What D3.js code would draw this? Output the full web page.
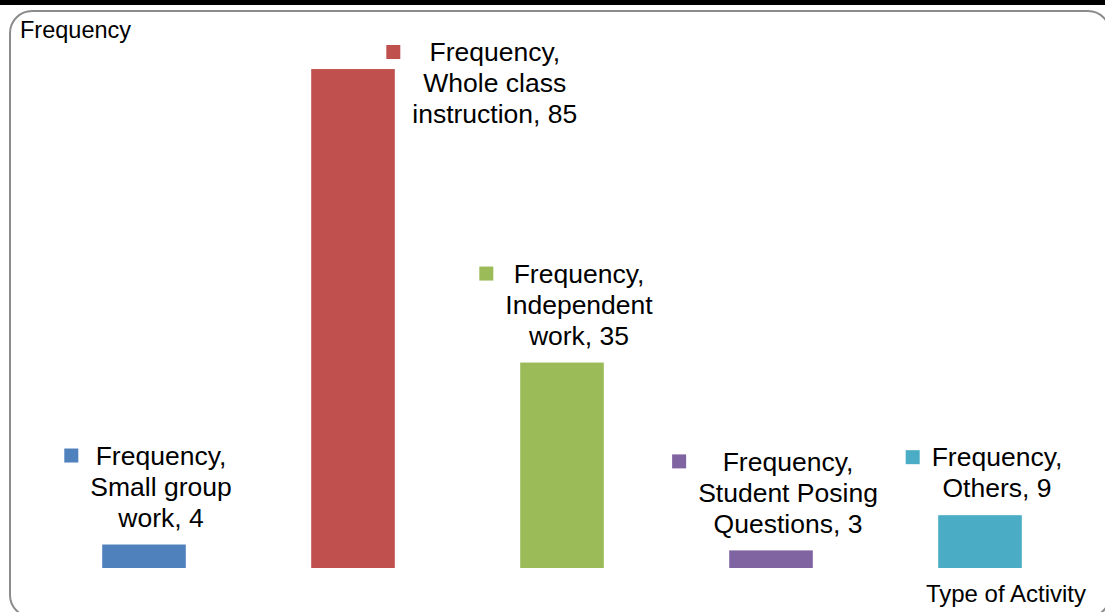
<!DOCTYPE html>
<html>
<head>
<meta charset="utf-8">
<script src="https://cdn.jsdelivr.net/npm/d3@7"></script>
<style>
  body { margin: 0; background: #fff; }
  svg { display: block; font-family: "Liberation Sans", Arial, sans-serif; }
</style>
</head>
<body>
<div id="chart-area"></div>
<script>
// data
var categories = ["Small group work", "Whole class instruction", "Independent work", "Student Posing Questions", "Others"];
var values = [4, 85, 35, 3, 9];
var colors = ["#4F81BD", "#C0504D", "#9BBB59", "#8064A2", "#4BACC6"];
// wrapped label lines (as Excel wrapped them)
var labelLines = [
    ["Frequency,", "Small group", "work, 4"],
    ["Frequency,", "Whole class", "instruction, 85"],
    ["Frequency,", "Independent", "work, 35"],
    ["Frequency,", "Student Posing", "Questions, 3"],
    ["Frequency,", "Others, 9"]
];

var w = 1105, h = 612;

var svg = d3.select("#chart-area")
    .append("svg")
    .attr("width", w)
    .attr("height", h);

// black strip at top
svg.append("rect")
    .attr("x", 0).attr("y", 0)
    .attr("width", w).attr("height", 5)
    .attr("fill", "#000");

// chart border
svg.append("rect")
    .attr("x", 10).attr("y", 11)
    .attr("width", 1100).attr("height", 606)
    .attr("rx", 22).attr("ry", 22)
    .attr("fill", "none")
    .attr("stroke", "#8c8c8c")
    .attr("stroke-width", 2);

var xScale = d3.scaleBand()
    .domain(categories)
    .range([39.5, 1084.5])
    .paddingInner(0.6)
    .paddingOuter(0.3);

var yScale = d3.scaleLinear()
    .domain([0, 90])
    .range([568, 568 - 90 * 5.87]);

svg.selectAll(".bar")
    .data(categories)
    .enter()
    .append("rect")
    .attr("class", "bar")
    .attr("x", function (d) { return xScale(d); })
    .attr("y", function (d, i) { return yScale(values[i]); })
    .attr("width", xScale.bandwidth())
    .attr("height", function (d, i) { return yScale(0) - yScale(values[i]); })
    .attr("fill", function (d, i) { return colors[i]; });

// data labels: above the bar, or beside it when there is no room
var fs = 26.5, lh = 31;
categories.forEach(function (c, i) {
    var lines = labelLines[i];
    var cx = xScale(c) + xScale.bandwidth() / 2 + 17;
    var lastY = yScale(values[i]) - 27;
    var firstY = lastY - (lines.length - 1) * lh;
    if (firstY < 50) {
        // no room above: move right of the bar
        cx = xScale(c) + xScale.bandwidth() + 100;
        firstY = 52;
    }
    var g = svg.append("g").attr("class", "data-label");
    var maxW = 0;
    lines.forEach(function (t, k) {
        var txt = g.append("text")
            .attr("x", cx)
            .attr("y", firstY + k * lh)
            .attr("dy", "0.35em")
            .attr("text-anchor", "middle")
            .attr("font-size", fs + "px")
            .attr("fill", "#000")
            .text(t);
        maxW = Math.max(maxW, txt.node().getComputedTextLength());
    });
    g.append("rect")
        .attr("x", cx - maxW / 2 - 26)
        .attr("y", firstY - 7)
        .attr("width", 14).attr("height", 14)
        .attr("fill", colors[i]);
});

// axis titles
svg.append("text")
    .attr("x", 20)
    .attr("y", 38)
    .attr("font-size", "23.5px")
    .text("Frequency");

svg.append("text")
    .attr("x", 1086)
    .attr("y", 602)
    .attr("text-anchor", "end")
    .attr("font-size", "24px")
    .text("Type of Activity");
</script>
</body>
</html>
